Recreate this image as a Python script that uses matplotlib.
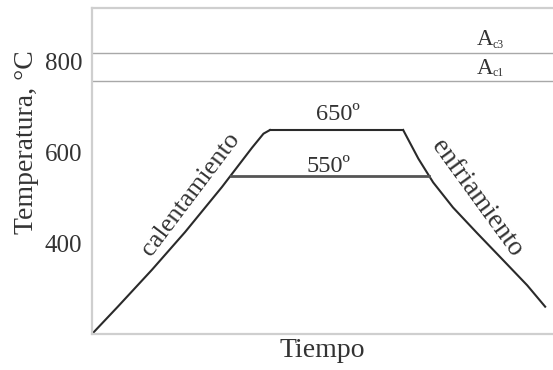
import matplotlib
matplotlib.use("Agg")
import matplotlib.pyplot as plt

plt.rcParams['font.family'] = ['Liberation Serif', 'DejaVu Serif']

# time axis in arbitrary units (0-100), temperature in degC
heat_t = [0, 5.6, 13.0, 20.2, 28.2, 34.7, 37.2, 38.6]
heat_T = [202, 262, 343, 426, 525, 611, 642, 650]
hold_t = [38.6, 67.5]
hold_T = 650
cool_t = [67.5, 70.8, 74.0, 78.3, 83.5, 89.2, 94.4, 98.3]
cool_T = [650, 587, 535, 480, 424, 364, 309, 262]
temple_T = 550
temple_t = [30.1, 73.1]
ac1, ac3 = 757, 820
yticks = [400, 600, 800]

ink = '#2a2a2a'
txt = '#333333'

fig = plt.figure(figsize=(5.53, 3.70), dpi=100)
ax = fig.add_axes([92 / 553, 36 / 370, 461 / 553, 326 / 370])

ax.axhline(ac3, color='#a8a8a8', lw=1.0)
ax.axhline(ac1, color='#a8a8a8', lw=1.0)

ax.plot(heat_t, heat_T, color=ink, lw=1.5, solid_joinstyle='round')
ax.plot(hold_t, [hold_T, hold_T], color=ink, lw=1.5)
ax.plot(cool_t, cool_T, color=ink, lw=1.5, solid_joinstyle='round')
ax.plot(temple_t, [temple_T, temple_T], color='#555555', lw=2.0)

ax.text(53.4, hold_T + 22, f'{hold_T}º', ha='center', va='baseline',
        fontsize=17.5, color=txt)
ax.text(51.2, temple_T + 7, f'{temple_T}º', ha='center', va='baseline',
        fontsize=17.5, color=txt)

# critical points: big A with a small lowered subscript
for name, level in [('c3', ac3), ('c1', ac1)]:
    ax.text(85.2, level + 17, 'A', ha='center', va='baseline',
            fontsize=16.5, color=txt)
    ax.text(86.8, level + 11, name, ha='left', va='baseline',
            fontsize=8.5, color=txt)

ax.text(21.5, 510, 'calentamiento', rotation=53, rotation_mode='anchor',
        ha='center', va='center', fontsize=19, color=txt)
ax.text(83.5, 501, 'enfriamiento', rotation=-54, rotation_mode='anchor',
        ha='center', va='center', fontsize=19.5, color=txt)

ax.set_xlim(0, 100)
ax.set_ylim(202, 918)
ax.set_xticks([])
ax.set_yticks(yticks)
ax.tick_params(axis='y', length=0, pad=7, labelsize=18, labelcolor=txt)

for side in ['left', 'bottom', 'top']:
    ax.spines[side].set_color('#cfcfcf')
    ax.spines[side].set_linewidth(1.6)
ax.spines['right'].set_visible(False)

ax.set_xlabel('Tiempo', fontsize=20, color=txt, labelpad=3)
ax.set_ylabel('Temperatura, °C', fontsize=20, color=txt, va='center')
ax.yaxis.set_label_coords(-0.143, 0.589)

fig.savefig('out.png', dpi=100)
